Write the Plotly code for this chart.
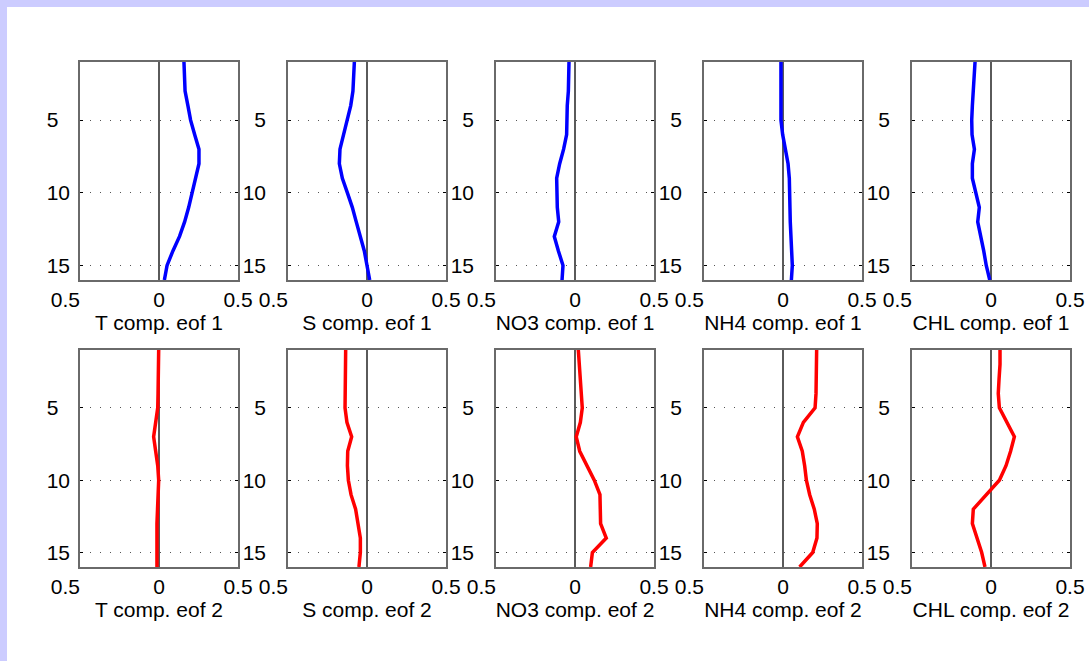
import plotly.graph_objects as go

# depth levels (y axis, reversed)
levels = [1, 2, 3, 4, 5, 6, 7, 8, 9, 10, 11, 12, 13, 14, 15, 16]

# EOF 1 components
T_eof1   = [0.158, 0.160, 0.165, 0.183, 0.200, 0.226, 0.253, 0.253, 0.232, 0.211, 0.188, 0.162, 0.130, 0.088, 0.051, 0.034]
S_eof1   = [-0.080, -0.082, -0.089, -0.103, -0.124, -0.150, -0.171, -0.175, -0.156, -0.124, -0.093, -0.068, -0.040, -0.017, 0.000, 0.017]
NO3_eof1 = [-0.038, -0.038, -0.042, -0.049, -0.051, -0.053, -0.072, -0.097, -0.116, -0.116, -0.112, -0.103, -0.131, -0.105, -0.076, -0.082]
NH4_eof1 = [-0.013, -0.013, -0.013, -0.013, -0.013, -0.002, 0.013, 0.032, 0.040, 0.044, 0.044, 0.046, 0.049, 0.051, 0.059, 0.053]
CHL_eof1 = [-0.101, -0.108, -0.114, -0.118, -0.122, -0.120, -0.105, -0.118, -0.118, -0.097, -0.074, -0.084, -0.063, -0.046, -0.030, -0.008]

# EOF 2 components
T_eof2   = [-0.002, -0.002, -0.004, -0.006, -0.008, -0.019, -0.034, -0.021, -0.008, -0.002, -0.006, -0.013, -0.013, -0.013, -0.013, -0.013]
S_eof2   = [-0.135, -0.135, -0.137, -0.139, -0.139, -0.127, -0.097, -0.122, -0.124, -0.118, -0.101, -0.072, -0.055, -0.042, -0.042, -0.051]
NO3_eof2 = [0.021, 0.027, 0.034, 0.040, 0.046, 0.034, 0.008, 0.030, 0.076, 0.122, 0.158, 0.162, 0.162, 0.198, 0.110, 0.099]
NH4_eof2 = [0.213, 0.213, 0.213, 0.209, 0.203, 0.129, 0.091, 0.122, 0.137, 0.148, 0.169, 0.198, 0.217, 0.215, 0.188, 0.105]
CHL_eof2 = [0.057, 0.057, 0.051, 0.046, 0.053, 0.099, 0.148, 0.124, 0.095, 0.053, -0.027, -0.112, -0.118, -0.091, -0.059, -0.038]

variables = ["T", "S", "NO3", "NH4", "CHL"]
eof1 = [T_eof1, S_eof1, NO3_eof1, NH4_eof1, CHL_eof1]
eof2 = [T_eof2, S_eof2, NO3_eof2, NH4_eof2, CHL_eof2]

x_tickvals = [-0.5, 0, 0.5]
x_ticktext = ["0.5\u00a0\u00a0\u00a0\u00a0\u00a0", "0", "0.5"]
y_tickvals = [5, 10, 15]
y_ticktext = ["5", "10", "15"]
y_ticktext_first = ["5\u00a0\u00a0", "10", "15"]

W, H = 1089, 661
FONT = "Liberation Sans, Arial, sans-serif"
FS = 21

fig = go.Figure()

col_left = [80, 288, 496, 704, 912]
col_w = 158
rows = [(62, 280), (350, 567)]

idx = 0
for r, (series_set, color, eofn) in enumerate([(eof1, "#0000FF", 1), (eof2, "#FF0000", 2)]):
    top, bot = rows[r]
    for c in range(5):
        idx += 1
        xa = "x" if idx == 1 else f"x{idx}"
        ya = "y" if idx == 1 else f"y{idx}"
        fig.add_trace(go.Scatter(
            x=series_set[c], y=levels, mode="lines",
            line=dict(color=color, width=3.5),
            xaxis=xa, yaxis=ya, showlegend=False, hoverinfo="skip"))
        xkey = "xaxis" if idx == 1 else f"xaxis{idx}"
        ykey = "yaxis" if idx == 1 else f"yaxis{idx}"
        x0 = col_left[c] / W
        x1 = (col_left[c] + col_w) / W
        y0 = 1 - bot / H
        y1 = 1 - top / H
        fig.layout[xkey] = dict(
            domain=[x0, x1], anchor=ya, range=[-0.5, 0.5], automargin=False,
            tickmode="array", tickvals=x_tickvals, ticktext=x_ticktext,
            showgrid=False, zeroline=True, zerolinecolor="#5a5a5a", zerolinewidth=1.5,
            showline=True, mirror=True, linecolor="#6a6a6a", linewidth=1.5,
            ticks="", tickfont=dict(family=FONT, size=FS, color="black"),
            title=dict(text=f"{variables[c]} comp. eof {eofn}",
                       font=dict(family=FONT, size=FS, color="black"), standoff=2),
            fixedrange=True)
        fig.layout[ykey] = dict(
            domain=[y0, y1], anchor=xa, range=[16, 1], automargin=False,
            tickmode="array", tickvals=y_tickvals,
            ticktext=(y_ticktext_first if c == 0 else y_ticktext),
            showgrid=True, gridcolor="#555555", gridwidth=1, griddash="1px,9px",
            zeroline=False, showline=True, mirror="ticks", linecolor="#6a6a6a", linewidth=1.5,
            ticks="inside", ticklen=3, tickcolor="black",
            ticklabelstandoff=(4 if c == 0 else 16),
            tickfont=dict(family=FONT, size=FS, color="black"),
            fixedrange=True)

fig.update_layout(
    width=W, height=H,
    margin=dict(l=0, r=0, t=0, b=0, pad=0, autoexpand=False),
    paper_bgcolor="white", plot_bgcolor="white",
    shapes=[
        dict(type="rect", xref="paper", yref="paper", x0=0, x1=7 / W, y0=0, y1=1,
             fillcolor="#CCCCFF", line=dict(width=0), layer="below"),
        dict(type="rect", xref="paper", yref="paper", x0=0, x1=1, y0=1 - 7 / H, y1=1,
             fillcolor="#CCCCFF", line=dict(width=0), layer="below"),
    ],
)

fig.write_html(
    "out.html",
    config={"displayModeBar": False},
    post_script="document.body.style.margin='0';document.body.style.overflow='hidden';",
)
